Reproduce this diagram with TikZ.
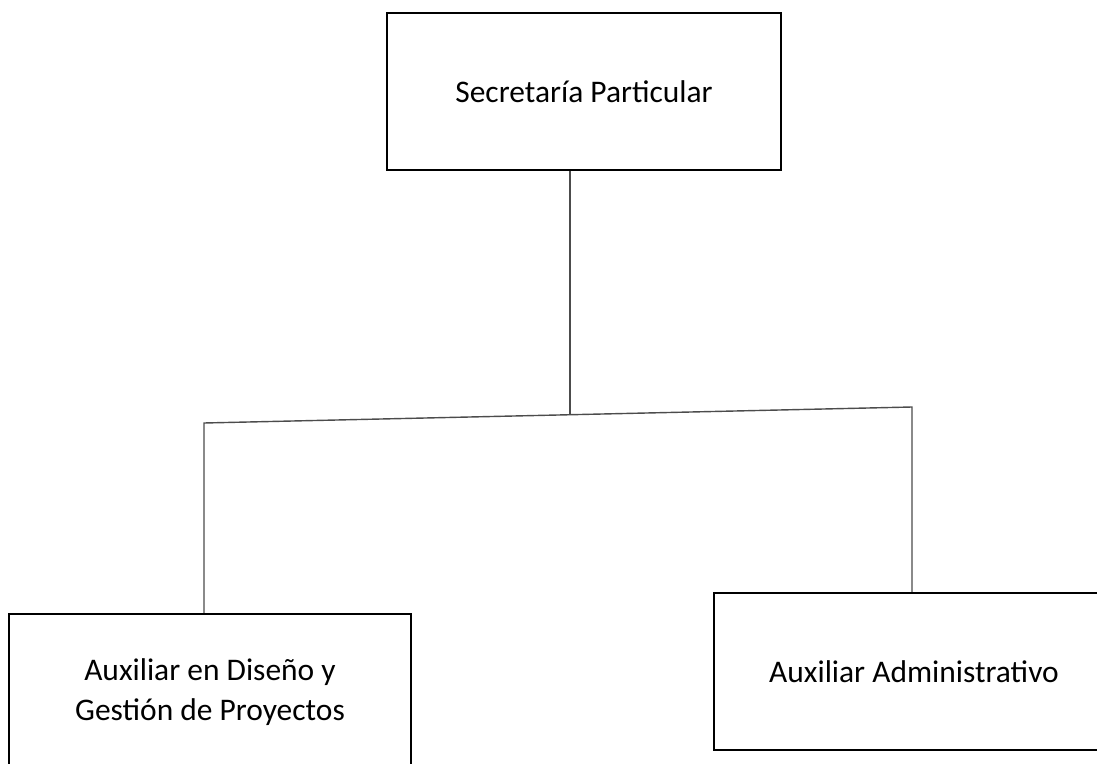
\documentclass[tikz,border=0pt]{standalone}
\usepackage{fontspec}
\setmainfont{Carlito}
\usetikzlibrary{positioning,calc}

\begin{document}
\begin{tikzpicture}[
    puesto/.style={draw,rectangle,line width=1.2pt,fill=white,align=center,font=\fontsize{17.9}{23}\selectfont},
    enlace/.style={draw=black!70,line width=0.8pt}
  ]
  \useasboundingbox (0,0) rectangle (21.94,15.26);
  \clip (0,0) rectangle (21.94,15.26);
  \node[puesto,minimum width=7.88cm,minimum height=3.14cm] (sec) at (11.68,13.43) {Secretaría Particular};
  \node[puesto,minimum width=8.04cm,minimum height=3.12cm] (disenio) at (4.2,1.42) {Auxiliar en Diseño y\\Gestión de Proyectos};
  \node[puesto,minimum width=8.0cm,minimum height=3.14cm] (admin) at (18.28,1.83) {Auxiliar Administrativo};
  % barra horizontal (un poco inclinada)
  \coordinate (bl) at (4.08,6.80);
  \coordinate (br) at (18.24,7.12);
  \coordinate (bm) at (11.40,6.97);
  \draw[enlace] (bm) -- (bm |- sec.south);
  \draw[enlace] (disenio.north -| bl) -- (bl) -- (br) -- (admin.north -| br);
\end{tikzpicture}
\end{document}
